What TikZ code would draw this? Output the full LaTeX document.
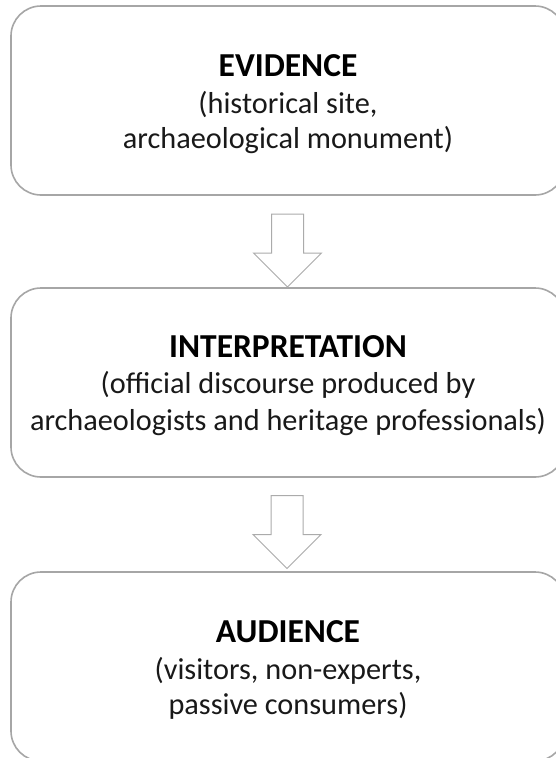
\documentclass[tikz,border=0pt]{standalone}
\usepackage{fontspec}
\setmainfont{Carlito}
\usetikzlibrary{shapes.arrows}
\definecolor{boxgray}{HTML}{A6A6A6}
\definecolor{arrgray}{HTML}{ABABAB}
\tikzset{
  stagebox/.style={draw=boxgray, line width=1.6pt, rounded corners=30pt, fill=white,
    minimum width=554pt, minimum height=189pt, inner sep=0pt},
  headtxt/.style={anchor=base, inner sep=0pt, font=\fontsize{33.5}{40}\selectfont\bfseries, text=black},
  bodytxt/.style={anchor=base, inner sep=0pt, font=\fontsize{30.3}{36}\selectfont, text=black!90},
  downarrow/.style={draw=arrgray, line width=1pt, fill=white, shape=single arrow, rotate=-90,
    single arrow head extend=18pt, single arrow tip angle=90, inner sep=15.5pt,
    minimum height=73pt}
}
\begin{document}
\begin{tikzpicture}[x=1pt,y=-1pt]
\useasboundingbox (0,0) rectangle (556,758);
\fill[white] (0,0) rectangle (556,758);
\node[stagebox] (b1) at (288,100.5) {};
\node[stagebox] (b2) at (288,382.5) {};
\node[stagebox] (b3) at (288,666.5) {};
\node[headtxt] (h1) at (288,76) {EVIDENCE};
\node[bodytxt] (t1a) at (288,113) {(historical site,};
\node[bodytxt] (t1b) at (288,148) {archaeological monument)};
\node[headtxt] (h2) at (288,357) {INTERPRETATION};
\node[bodytxt] (t2a) at (288,393) {(official discourse produced by};
\node[bodytxt] (t2b) at (288,430) {archaeologists and heritage professionals)};
\node[headtxt] (h3) at (288,642) {AUDIENCE};
\node[bodytxt] (t3a) at (288,679) {(visitors, non-experts,};
\node[bodytxt] (t3b) at (288,714) {passive consumers)};
\node[downarrow] (a1) at (287.5,242.5) {};
\node[downarrow] (a2) at (287,524) {};
\end{tikzpicture}
\end{document}
